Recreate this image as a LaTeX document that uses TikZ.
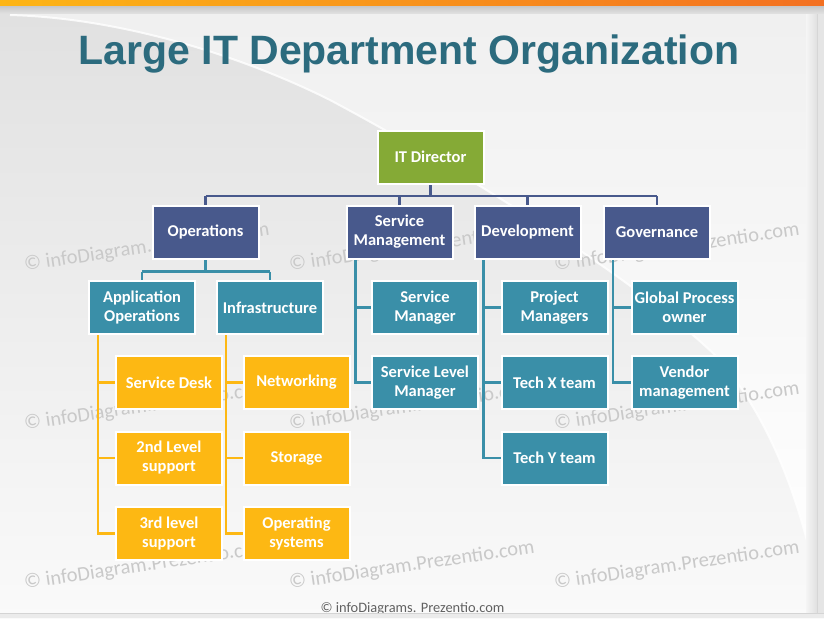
\documentclass[tikz,border=0pt]{standalone}
\usepackage{fontspec}
\setmainfont{Carlito}
\newfontfamily\titlefont{Liberation Sans}
\usetikzlibrary{calc}
\definecolor{cgreen}{HTML}{85AA36}
\definecolor{cblue}{HTML}{48598C}
\definecolor{cteal}{HTML}{3A8FA8}
\definecolor{corange}{HTML}{FDB813}
\definecolor{ctitle}{HTML}{2C6B7E}
\definecolor{barleft}{HTML}{FDB515}
\definecolor{barright}{HTML}{F37021}
\pgfdeclarelayer{pagebg}
\pgfdeclarelayer{lines}
\pgfsetlayers{pagebg,lines,main}
\tikzset{
  box/.style={draw=white, line width=2pt, minimum width=106pt, minimum height=53pt,
    inner sep=1pt, align=center, text=white,
    font=\fontsize{16.5}{19}\selectfont\bfseries},
  greenbox/.style={box, fill=cgreen},
  bluebox/.style={box, fill=cblue},
  tealbox/.style={box, fill=cteal},
  orangebox/.style={box, fill=corange},
  blueline/.style={draw=cblue, line width=2.6pt},
  tealline/.style={draw=cteal, line width=2.4pt},
  orangeline/.style={draw=corange, line width=2.2pt},
  wm/.style={anchor=base west, rotate=8.4, text=black!21, inner sep=0pt,
    font=\fontsize{20.5}{20.5}\selectfont},
}
\begin{document}
\begin{tikzpicture}[x=1pt,y=-1pt]
\useasboundingbox (0,0) rectangle (824,618);

% ---------------- boxes ----------------
\node[greenbox] (dir) at (430.5,157) {IT Director};

\node[bluebox] (ops) at (205.5,232) {Operations};
\node[bluebox] (sm)  at (399.5,232) {Service\\Management};
\node[bluebox] (dev) at (527.5,232) {Development};
\node[bluebox] (gov) at (657,232)   {Governance};

\node[tealbox] (appops) at (142,307.5) {Application\\Operations};
\node[tealbox] (infra)  at (270,307.5) {Infrastructure};
\node[tealbox] (smgr)   at (425,307.5) {Service\\Manager};
\node[tealbox] (slm)    at (425,382.5) {Service Level\\Manager};
\node[tealbox] (pm)     at (554.5,307.5) {Project\\Managers};
\node[tealbox] (tx)     at (554.5,382.5) {Tech X team};
\node[tealbox] (ty)     at (554.5,458)   {Tech Y team};
\node[tealbox] (gpo)    at (684.5,307.5) {Global Process\\owner};
\node[tealbox] (vm)     at (684.5,382.5) {Vendor\\management};

\node[orangebox] (sd)     at (169,382.5) {Service Desk};
\node[orangebox] (ltwo)   at (169,458)   {2nd Level\\support};
\node[orangebox] (lthree) at (169,533.5) {3rd level\\support};
\node[orangebox] (net)    at (296.5,382.5) {Networking};
\node[orangebox] (sto)    at (296.5,458)   {Storage};
\node[orangebox] (os)     at (296.5,533.5) {Operating\\systems};

% ---------------- page background ----------------
\begin{pgfonlayer}{pagebg}
  \shade[top color=black!12, bottom color=black!2] (0,0) rectangle (824,618);
  \shade[top color=black!6, bottom color=white]
    (10,15) .. controls (120,18) and (240,55) .. (330,100)
    .. controls (480,180) and (650,290) .. (720,360)
    .. controls (770,420) and (800,500) .. (816,580)
    -- (816,6) -- (10,6) -- cycle;
  \draw[white, line width=2pt, opacity=0.8]
    (10,15) .. controls (120,18) and (240,55) .. (330,100)
    .. controls (480,180) and (650,290) .. (720,360)
    .. controls (770,420) and (800,500) .. (816,580);
  % right edge
  \shade[left color=black!4, right color=black!12] (806,6) rectangle (817,613);
  \fill[black!10] (817,6) rectangle (824,618);
  \draw[black!16, line width=0.8pt] (817,6) -- (817,613);
  % top bar
  \shade[top color=black!22, bottom color=black!11] (0,6) rectangle (824,14);
  \shade[left color=barleft, right color=barright] (0,0) rectangle (824,6);
  % watermarks
  \foreach \wx/\wy [count=\i] in {25/271,290/271,555/271,25/430,290/430,555/430,25/589,290/589,555/589}
    \node[wm] (wm\i) at (\wx,\wy) {© infoDiagram.Prezentio.com};
  % footer
  \node[anchor=base, inner sep=0pt, text=black!62, font=\fontsize{14.4}{14.4}\selectfont]
    (foot) at (412.5,612) {© infoDiagrams. Prezentio.com};
  \fill[black!8] (0,613) rectangle (824,618);
  \draw[black!17, line width=0.8pt] (0,613) -- (824,613);
\end{pgfonlayer}

% ---------------- title ----------------
\node[anchor=base, inner sep=0pt, text=ctitle, font=\titlefont\bfseries\fontsize{41}{41}\selectfont]
  (title) at (409,65) {Large IT Department Organization};

% ---------------- connectors ----------------
\begin{pgfonlayer}{lines}
  \coordinate (b1) at ($(dir.south)+(0,11.5)$);
  \draw[blueline] (dir.south) -- (b1);
  \draw[blueline] (ops.north |- b1) -- (gov.north |- b1);
  \foreach \n in {ops,sm,dev,gov}
    \draw[blueline] (\n.north |- b1) -- (\n.north);

  \coordinate (b2) at ($(ops.south)+(0,12)$);
  \draw[tealline] (ops.south) -- (b2);
  \draw[tealline] (appops.north |- b2) -- (infra.north |- b2);
  \draw[tealline] (appops.north |- b2) -- (appops.north);
  \draw[tealline] (infra.north |- b2) -- (infra.north);

  \coordinate (smx) at ($(sm.south west)+(10,0)$);
  \draw[tealline] (smx) |- (slm.west);
  \draw[tealline] (smx |- smgr.west) -- (smgr.west);

  \coordinate (devx) at ($(dev.south west)+(10,0)$);
  \draw[tealline] (devx) |- (ty.west);
  \draw[tealline] (devx |- pm.west) -- (pm.west);
  \draw[tealline] (devx |- tx.west) -- (tx.west);

  \coordinate (govx) at ($(gov.south west)+(10,0)$);
  \draw[tealline] (govx) |- (vm.west);
  \draw[tealline] (govx |- gpo.west) -- (gpo.west);

  \coordinate (aox) at ($(appops.south west)+(10,0)$);
  \draw[orangeline] (aox) |- (lthree.west);
  \draw[orangeline] (aox |- sd.west) -- (sd.west);
  \draw[orangeline] (aox |- ltwo.west) -- (ltwo.west);

  \coordinate (inx) at ($(infra.south west)+(10,0)$);
  \draw[orangeline] (inx) |- (os.west);
  \draw[orangeline] (inx |- net.west) -- (net.west);
  \draw[orangeline] (inx |- sto.west) -- (sto.west);
\end{pgfonlayer}
\end{tikzpicture}
\end{document}
